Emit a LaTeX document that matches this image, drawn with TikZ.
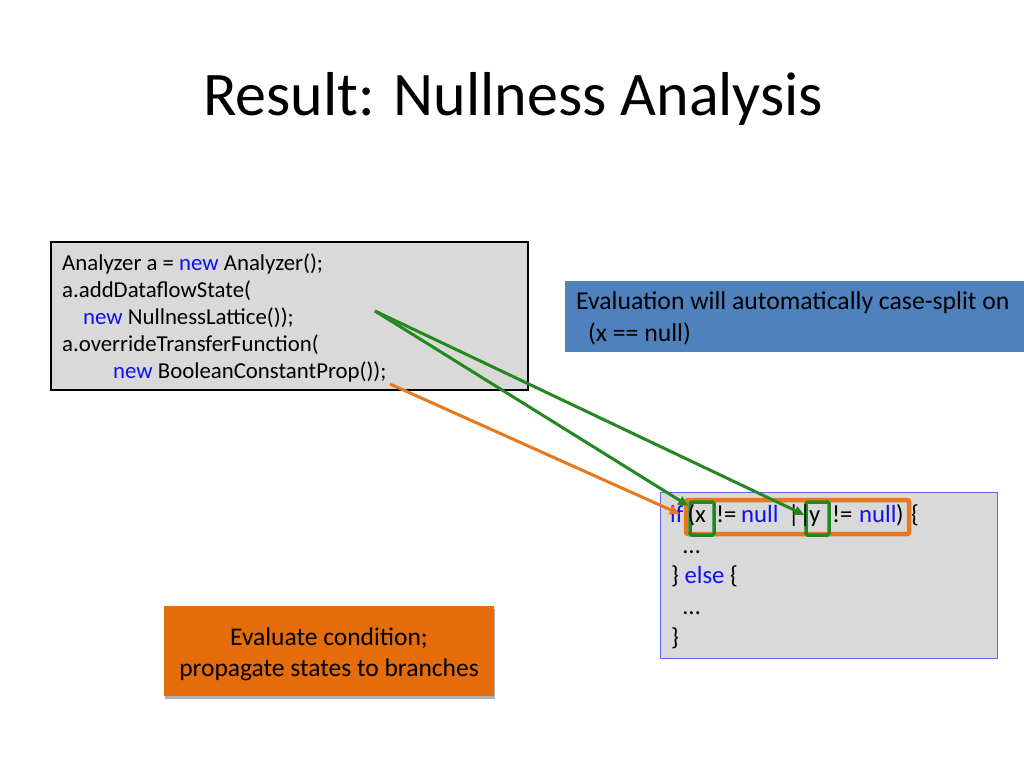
\documentclass[tikz,border=0pt]{standalone}
\usepackage{fontspec}
\setmainfont{Carlito}
\usetikzlibrary{arrows.meta,shadows,calc}
\definecolor{codegray}{HTML}{D9D9D9}
\definecolor{slideblue}{HTML}{4F81BD}
\definecolor{orangefill}{HTML}{E46C0A}
\definecolor{orangeline}{HTML}{E8781E}
\definecolor{hlgreen}{HTML}{23891F}
\definecolor{kwblue}{HTML}{1010F0}
\definecolor{rborder}{HTML}{6464F5}
\newcommand{\kw}[1]{\textcolor{kwblue}{#1}}
\newcommand{\tok}[2]{\makebox[0pt][l]{\hspace*{#1pt}#2}}
\tikzset{
  codebox/.style={draw=black, line width=1.4pt, fill=codegray, inner sep=0pt},
  rcodebox/.style={draw=rborder, line width=1pt, fill=codegray, inner sep=0pt},
  notebox/.style={fill=slideblue, inner sep=0pt},
  evalbox/.style={fill=orangefill, inner sep=0pt,
    drop shadow={shadow xshift=0.8pt, shadow yshift=-3pt, opacity=0.3, fill=black}},
  evaltextstyle/.style={inner sep=0pt, align=center, font=\fontsize{25.5}{31}\selectfont},
  condbox/.style={draw=orangeline, line width=4.5pt, rounded corners=2pt, inner sep=0pt},
  varbox/.style={draw=hlgreen, line width=3.5pt, rounded corners=1.5pt, inner sep=0pt},
  codeline/.style={anchor=base west, inner sep=0pt, font=\fontsize{22.8}{27}\selectfont},
  rline/.style={anchor=base west, inner sep=0pt, font=\fontsize{24.7}{30}\selectfont},
  noteline/.style={anchor=base west, inner sep=0pt, font=\fontsize{25.7}{32}\selectfont},
  greenarrow/.style={draw=hlgreen, line width=3pt, -{Triangle[length=10pt,width=9pt]}},
  orangearrow/.style={draw=orangeline, line width=3pt, -{Triangle[length=10pt,width=9pt]}},
}
\begin{document}
\begin{tikzpicture}[x=1pt,y=-1pt]
\useasboundingbox[fill=white] (0,0) rectangle (1024,768);

% title
\node[anchor=base west, inner sep=0pt, font=\fontsize{62}{70}\selectfont] (title) at (203,115) {Result: Nullness Analysis};

% left code box
\node[codebox, minimum width=477pt, minimum height=148pt] (code) at (289.5,316) {};
\node[codeline] (c1) at (62,270.5) {Analyzer a = \kw{new} Analyzer();};
\node[codeline] (c2) at (62,297.5) {a.addDataflowState(};
\node[codeline] (c3) at (83,324.5) {\kw{new} NullnessLattice());};
\node[codeline] (c4) at (62,351.5) {a.overrideTransferFunction(};
\node[codeline] (c5) at (113,378.5) {\kw{new} BooleanConstantProp());};

% blue note
\node[notebox, minimum width=465pt, minimum height=71pt] (note) at (797.5,316.5) {};
\node[noteline] (n1) at (576,309) {Evaluation will automatically case-split on};
\node[noteline] (n2) at (588,341) {(x == null)};

% right code box
\node[rcodebox, minimum width=337pt, minimum height=166pt] (rcode) at (828.5,575) {};

% highlight boxes
\node[condbox, minimum width=223pt, minimum height=34pt] (cond) at (797.5,517) {};
\node[varbox, minimum width=24pt, minimum height=33pt] (xbox) at (702,518.5) {};
\node[varbox, minimum width=23pt, minimum height=33pt] (ybox) at (817.5,518.5) {};

% code lines of the right box
\node[rline] (r1) at (670,522.5) {\tok{0}{\kw{if}}\tok{17.5}{(x}\tok{46}{!=}\tok{71}{\kw{null}}\tok{118}{||}\tok{139}{y}\tok{162}{!=}\tok{189}{\kw{null}}\tok{226}{)}\tok{241}{\{}\hspace*{252pt}};
\node[rline] (r2) at (683,553) {\ldots};
\node[rline] (r3) at (671,583.5) {\} \kw{else} \{};
\node[rline] (r4) at (683,614.5) {\ldots};
\node[rline] (r5) at (671,645) {\}};

% orange box
\node[evalbox, minimum width=330pt, minimum height=90pt] (eval) at (329,651) {};
\node[evaltextstyle] (evaltext) at (329,654) {Evaluate condition;\\propagate states to branches};

% arrows
\coordinate (gstart) at (375,311);
\coordinate (ostart) at (390,384);
\draw[greenarrow] (gstart) -- ($(xbox.north west)!0.15!(xbox.south west)$);
\draw[greenarrow] (gstart) -- ($(ybox.north west)!0.4!(ybox.south west)$);
\draw[orangearrow] (ostart) -- ($(cond.west)+(-4,-3)$);
\end{tikzpicture}
\end{document}
